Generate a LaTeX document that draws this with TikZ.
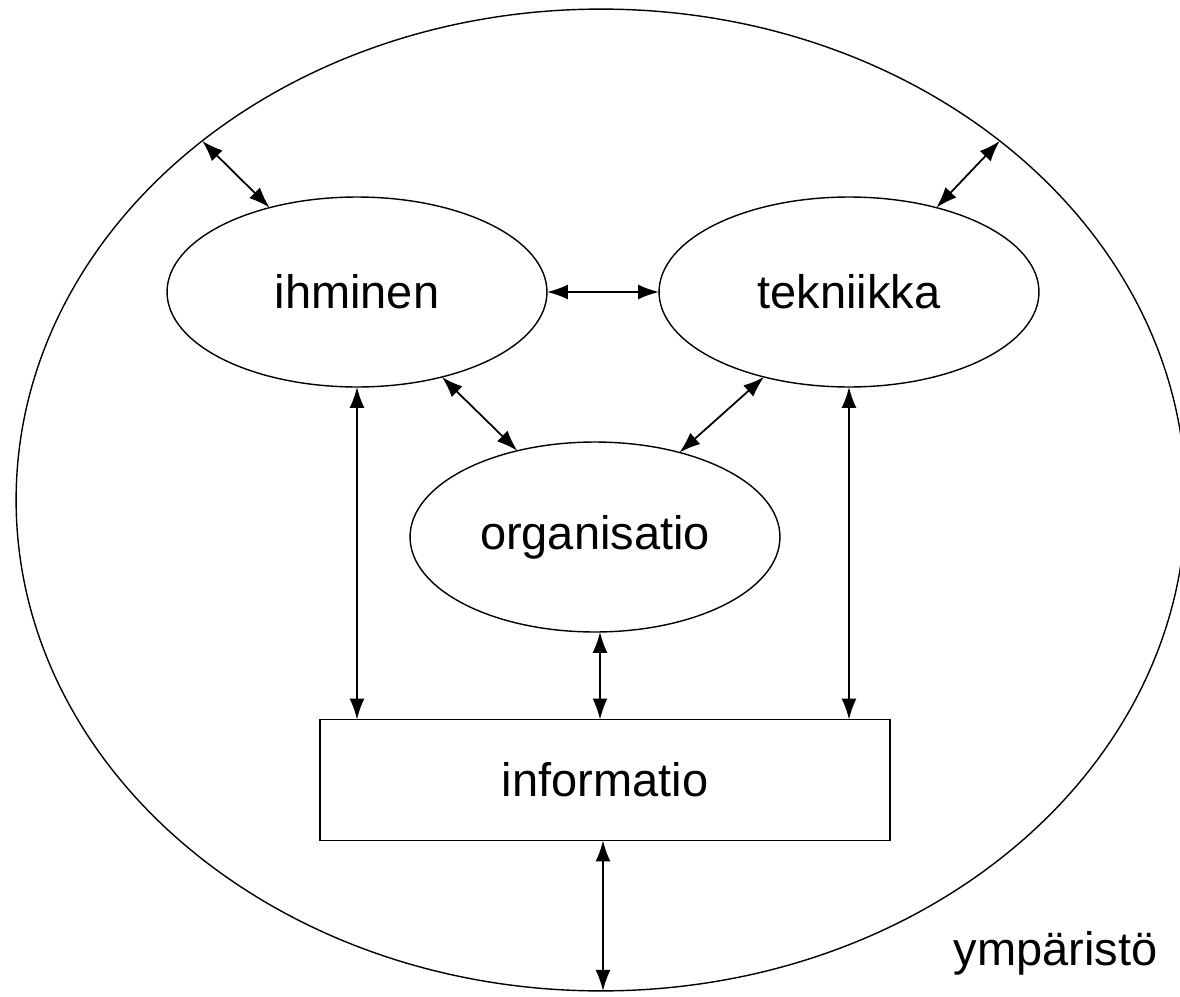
\documentclass[tikz,border=0pt]{standalone}
\usepackage{fontspec}
\setmainfont{Liberation Sans}
\usetikzlibrary{shapes.geometric,arrows.meta,calc}
\begin{document}
\begin{tikzpicture}[x=0.02cm,y=-0.02cm,
  line width=0.8pt,
  every node/.style={font=\fontsize{26.75}{32}\selectfont},
  oval/.style={draw, ellipse, inner sep=0pt, outer sep=0pt, minimum width=7.6cm, minimum height=3.8cm},
  boxnode/.style={draw, rectangle, inner sep=0pt, outer sep=0pt, minimum width=11.4cm, minimum height=2.42cm},
  link/.style={{Latex[length=0.42cm,width=0.3cm]}-{Latex[length=0.42cm,width=0.3cm]}, line width=1pt}
]
\useasboundingbox (0,0) rectangle (1180,997);
\clip (0,0) rectangle (1180,997);
\node[draw, ellipse, inner sep=0pt, outer sep=0pt, minimum width=23.4cm, minimum height=19.64cm] (env) at (601,500) {};
\node[oval] (ih) at (357,292) {ihminen};
\node[oval] (tek) at (849,292) {tekniikka};
\node[oval, minimum width=7.4cm] (org) at (595,537) {organisatio};
\node[boxnode] (info) at (605,780) {informatio};
\node[anchor=base west, inner sep=0pt] (ymp) at (953,965) {ympäristö};

\draw[link] (env.138) -- (ih.136);
\draw[link] (env.42) -- (tek.44);
\draw[link] (ih.east) -- (tek.west);
\draw[link] (ih.-45) -- (org.132);
\draw[link] (tek.225) -- (org.45);
\draw[link] (ih.south) -- (ih.south |- info.north);
\draw[link] (tek.south) -- (tek.south |- info.north);
\draw[link] ($(org.south)+(5,0)$) -- ($(org.south |- info.north)+(5,0)$);
\draw[link] ($(info.south)+(-2,0)$) -- ($(info.south |- env.south)+(-2,0)$);
\end{tikzpicture}
\end{document}
